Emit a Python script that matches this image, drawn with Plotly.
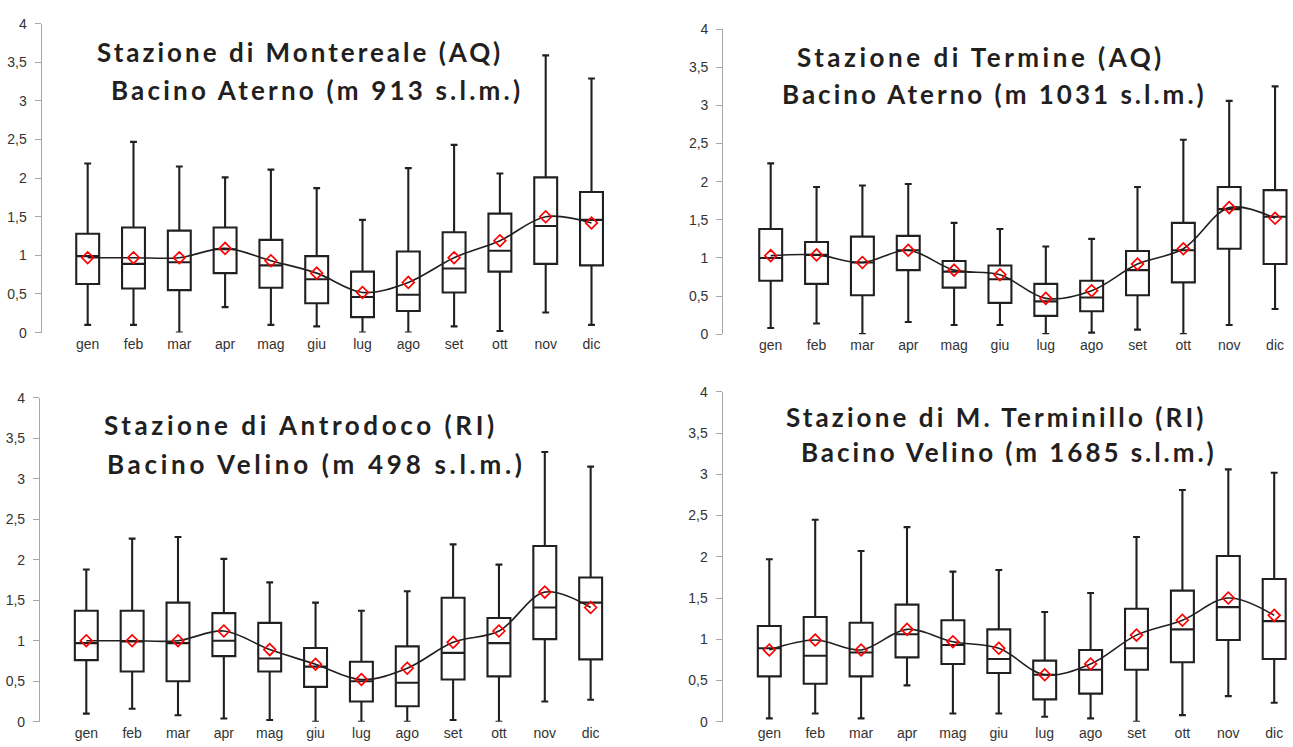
import plotly.graph_objects as go

W, H = 1293, 747

months = ["gen", "feb", "mar", "apr", "mag", "giu", "lug", "ago", "set", "ott", "nov", "dic"]
y_tick_vals = [0, 0.5, 1, 1.5, 2, 2.5, 3, 3.5, 4]
y_tick_text = ["0", "0,5", "1", "1,5", "2", "2,5", "3", "3,5", "4"]

# Stazione di Montereale (AQ)
mon_title = ["Stazione di Montereale (AQ)", "Bacino Aterno (m 913 s.l.m.)"]
mon_upper = [2.19, 2.47, 2.15, 2.01, 2.11, 1.87, 1.46, 2.13, 2.43, 2.06, 3.59, 3.29]
mon_q3 = [1.28, 1.36, 1.32, 1.36, 1.20, 0.99, 0.79, 1.05, 1.30, 1.54, 2.01, 1.82]
mon_med = [0.99, 0.89, 0.91, 1.08, 0.87, 0.69, 0.46, 0.49, 0.83, 1.06, 1.38, 1.46]
mon_q1 = [0.63, 0.57, 0.55, 0.77, 0.58, 0.38, 0.20, 0.28, 0.52, 0.79, 0.89, 0.87]
mon_low = [0.10, 0.10, 0.00, 0.33, 0.10, 0.08, 0.00, 0.00, 0.08, 0.02, 0.26, 0.10]
mon_mean = [0.97, 0.97, 0.97, 1.09, 0.93, 0.77, 0.52, 0.65, 0.97, 1.19, 1.50, 1.42]

# Stazione di Termine (AQ)
ter_title = ["Stazione di Termine (AQ)", "Bacino Aterno (m 1031 s.l.m.)"]
ter_upper = [2.24, 1.93, 1.95, 1.97, 1.46, 1.38, 1.15, 1.25, 1.93, 2.55, 3.06, 3.25]
ter_q3 = [1.38, 1.21, 1.28, 1.29, 0.96, 0.90, 0.66, 0.70, 1.09, 1.46, 1.93, 1.89]
ter_med = [1.00, 1.04, 0.94, 1.10, 0.82, 0.72, 0.43, 0.48, 0.84, 1.10, 1.64, 1.54]
ter_q1 = [0.70, 0.66, 0.51, 0.84, 0.61, 0.41, 0.24, 0.30, 0.51, 0.68, 1.12, 0.92]
ter_low = [0.08, 0.14, 0.00, 0.16, 0.12, 0.12, 0.00, 0.02, 0.06, 0.00, 0.12, 0.33]
ter_mean = [1.03, 1.04, 0.94, 1.10, 0.84, 0.78, 0.47, 0.57, 0.92, 1.12, 1.66, 1.52]

# Stazione di Antrodoco (RI)
ant_title = ["Stazione di Antrodoco (RI)", "Bacino Velino (m 498 s.l.m.)"]
ant_upper = [1.88, 2.26, 2.28, 2.01, 1.72, 1.47, 1.37, 1.61, 2.19, 1.94, 3.33, 3.15]
ant_q3 = [1.37, 1.37, 1.47, 1.34, 1.22, 0.91, 0.74, 0.93, 1.53, 1.28, 2.17, 1.78]
ant_med = [0.97, 0.99, 0.97, 1.00, 0.78, 0.68, 0.50, 0.48, 0.85, 0.97, 1.41, 1.47]
ant_q1 = [0.76, 0.62, 0.50, 0.81, 0.62, 0.43, 0.25, 0.19, 0.52, 0.56, 1.02, 0.77]
ant_low = [0.10, 0.16, 0.08, 0.04, 0.02, 0.00, 0.00, 0.00, 0.02, 0.00, 0.25, 0.27]
ant_mean = [1.00, 1.00, 1.00, 1.12, 0.89, 0.71, 0.52, 0.66, 0.98, 1.12, 1.60, 1.41]

# Stazione di M. Terminillo (RI)
tmn_title = ["Stazione di M. Terminillo (RI)", "Bacino Velino (m 1685 s.l.m.)"]
tmn_upper = [1.97, 2.45, 2.07, 2.36, 1.82, 1.84, 1.33, 1.56, 2.24, 2.81, 3.06, 3.02]
tmn_q3 = [1.16, 1.27, 1.20, 1.42, 1.23, 1.12, 0.74, 0.87, 1.37, 1.59, 2.01, 1.73]
tmn_med = [0.89, 0.80, 0.84, 1.06, 0.93, 0.76, 0.57, 0.63, 0.89, 1.12, 1.39, 1.22]
tmn_q1 = [0.55, 0.46, 0.55, 0.78, 0.70, 0.59, 0.27, 0.34, 0.63, 0.72, 0.99, 0.76]
tmn_low = [0.04, 0.10, 0.04, 0.44, 0.10, 0.10, 0.06, 0.04, 0.00, 0.08, 0.31, 0.23]
tmn_mean = [0.87, 0.99, 0.87, 1.12, 0.97, 0.89, 0.57, 0.70, 1.05, 1.23, 1.50, 1.29]

stations = [
    (mon_title, mon_upper, mon_q3, mon_med, mon_q1, mon_low, mon_mean),
    (ter_title, ter_upper, ter_q3, ter_med, ter_q1, ter_low, ter_mean),
    (ant_title, ant_upper, ant_q3, ant_med, ant_q1, ant_low, ant_mean),
    (tmn_title, tmn_upper, tmn_q3, tmn_med, tmn_q1, tmn_low, tmn_mean),
]

# layout geometry in pixels: axis x, right x, y of 0, y of 4, x of first category, spacing,
# title line centres and letter spacing of each title line
geom = [
    dict(ax=41.7, right=645, y0=331.7, y4=16.0, x0=87.7, sp=45.8,
         t1=(299.5, 45.0), t2=(317.3, 83.8), ls=(3.0, 3.2)),
    dict(ax=723.3, right=1293, y0=333.3, y4=21.7, x0=770.7, sp=45.85,
         t1=(981.0, 50.5), t2=(994.0, 88.0), ls=(3.5, 3.0)),
    dict(ax=40.0, right=645, y0=729.3, y4=398.3, x0=86.3, sp=45.85,
         t1=(300.7, 426.5), t2=(316.5, 466.0), ls=(3.6, 3.7)),
    dict(ax=722.7, right=1293, y0=729.3, y4=392.3, x0=769.3, sp=45.9,
         t1=(995.6, 417.5), t2=(1009.0, 454.2), ls=(3.1, 2.95)),
]

fig = go.Figure()
layout = dict(
    width=W, height=H, autosize=False,
    margin=dict(l=0, r=0, t=0, b=0, pad=0),
    paper_bgcolor="white", plot_bgcolor="white",
    showlegend=False,
    font=dict(family="Liberation Sans, Arial, sans-serif", size=14, color="#333333"),
)
annotations = []
xpos = list(range(len(months)))
LINE = "#231f20"
AXC = "#a8a8a8"
TITLE_FONT = dict(family="Lato, Open Sans, sans-serif", size=26, color="#231f20",
                  weight="bold")

for i, (st, g) in enumerate(zip(stations, geom)):
    title, up, q3, med, q1, low, mean = st
    n = "" if i == 0 else str(i + 1)
    xa, ya = "x" + n, "y" + n
    fig.add_trace(go.Box(
        x=xpos, q1=q1, median=med, q3=q3, lowerfence=low, upperfence=up,
        xaxis=xa, yaxis=ya, width=0.5, whiskerwidth=0.3,
        fillcolor="rgba(255,255,255,0)", line=dict(color=LINE, width=2.1),
        boxpoints=False, hoverinfo="skip",
    ))
    fig.add_trace(go.Scatter(
        x=xpos, y=mean, xaxis=xa, yaxis=ya, mode="lines+markers",
        line=dict(color=LINE, width=1.6, shape="spline", smoothing=1.0),
        marker=dict(symbol="diamond-open", size=9, color="#ff0000",
                    line=dict(color="#ff0000", width=1.7)),
        hoverinfo="skip",
    ))
    xdom = [g["ax"] / W, g["right"] / W]
    ydom = [(H - g["y0"]) / H, (H - g["y4"]) / H]
    xr = [(g["ax"] - g["x0"]) / g["sp"], (g["right"] - g["x0"]) / g["sp"]]
    layout["xaxis" + n] = dict(
        domain=xdom, range=xr, anchor=ya, tickmode="array", tickvals=xpos,
        ticktext=months, showline=False, ticks="", showgrid=False,
        zeroline=False, tickfont=dict(size=14, color="#333333"),
        ticklabelstandoff=1, fixedrange=True,
    )
    layout["yaxis" + n] = dict(
        domain=ydom, range=[0, 4], anchor=xa, tickmode="array",
        tickvals=y_tick_vals, ticktext=y_tick_text, showline=True,
        linecolor=AXC, linewidth=1.2, ticks="outside", ticklen=6,
        tickcolor=AXC, tickwidth=1.2, showgrid=False, zeroline=False,
        tickfont=dict(size=14, color="#333333"), ticklabelstandoff=5,
        fixedrange=True,
    )
    for txt, (cx, cy), ls in zip(title, [g["t1"], g["t2"]], g["ls"]):
        annotations.append(dict(
            xref="paper", yref="paper", x=cx / W, y=1 - cy / H,
            xanchor="center", yanchor="middle", showarrow=False,
            text='<b><span style="letter-spacing:%.2fpx">%s</span></b>' % (ls, txt),
            font=TITLE_FONT,
        ))

layout["annotations"] = annotations
fig.update_layout(**layout)
fig.write_html("out.html")
